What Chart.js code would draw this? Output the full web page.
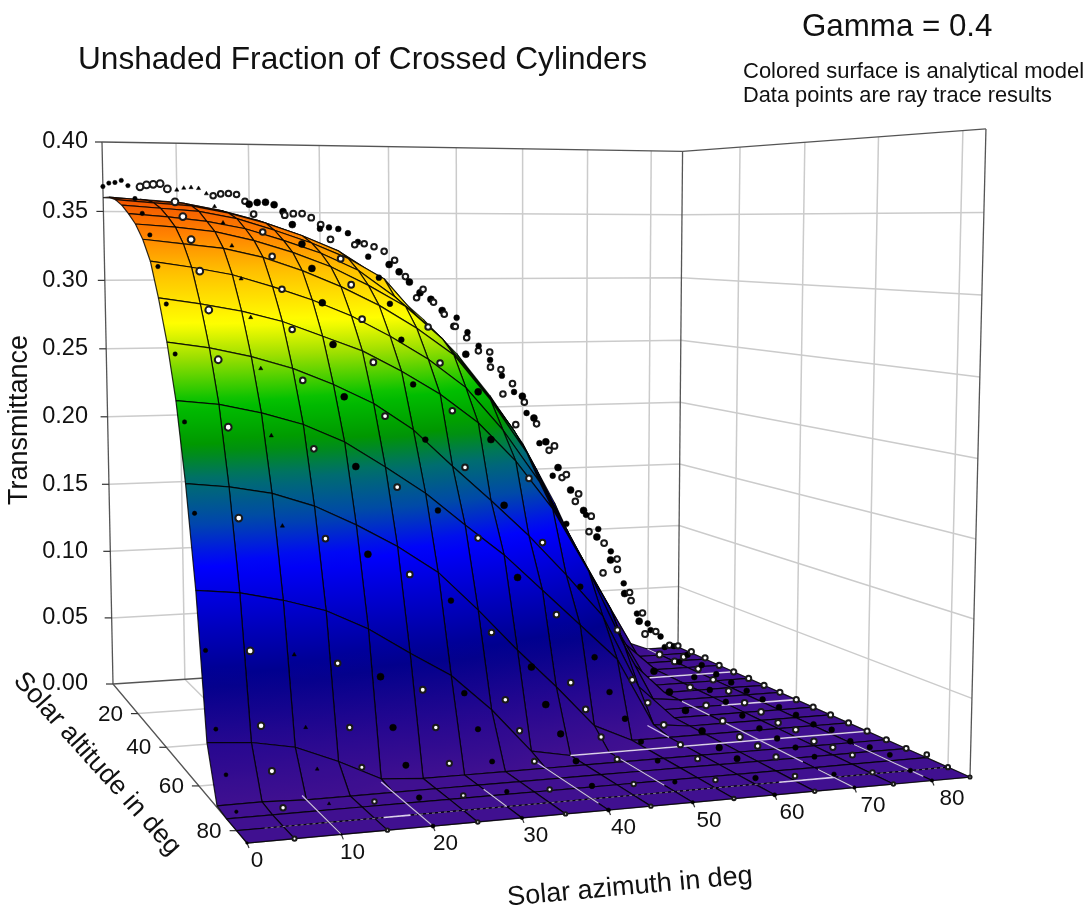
<!DOCTYPE html>
<html lang="en">
<head>
<meta charset="UTF-8">
<title>Unshaded Fraction of Crossed Cylinders</title>
<script src="https://cdn.jsdelivr.net/npm/chart.js@4"></script>
<style>
    body { margin: 0; background: #fff; }
    canvas { display: block; }
</style>
</head>
<body>
<canvas id="chart" width="1085" height="907"></canvas>
<script>
// axis ticks
const zTicks = [0, 0.05, 0.10, 0.15, 0.20, 0.25, 0.30, 0.35, 0.40];
const azTicks = [0, 10, 20, 30, 40, 50, 60, 70, 80];
const altTicks = [20, 40, 60, 80];

// mesh positions in degrees
const azimuths = [0, 5, 10, 15, 20, 25, 30, 35, 40, 45, 50, 55, 60, 65, 70, 75, 80, 85];
const altitudes = [0, 5, 10, 15, 20, 25, 30, 35, 40, 45, 50, 55, 60, 65, 70, 75, 80, 85];

// analytical model, one row per altitude
const modelT = [
    [.360,.359,.357,.352,.345,.336,.325,.310,.292,.269,.242,.209,.171,.123,.067,.010,0,0],
    [.360,.358,.356,.351,.344,.335,.324,.307,.286,.260,.232,.197,.156,.103,.058,0,0,0],
    [.358,.356,.354,.349,.342,.333,.322,.305,.279,.252,.223,.188,.140,.091,.045,0,0,0],
    [.354,.352,.350,.345,.337,.328,.317,.302,.272,.244,.214,.176,.123,.077,.023,0,0,0],
    [.348,.346,.343,.338,.330,.321,.309,.290,.267,.237,.204,.162,.109,.060,.001,0,0,0],
    [.341,.339,.336,.330,.322,.312,.299,.284,.261,.229,.194,.145,.097,.044,0,0,0,0],
    [.331,.328,.325,.319,.310,.299,.286,.270,.251,.219,.181,.128,.081,.025,0,0,0,0],
    [.317,.313,.308,.300,.291,.280,.266,.250,.230,.200,.163,.115,.070,.003,0,0,0,0],
    [.294,.290,.285,.278,.268,.258,.244,.228,.208,.181,.147,.102,.048,0,0,0,0,0],
    [.267,.263,.257,.249,.238,.225,.207,.182,.158,.133,.105,.075,.024,0,0,0,0,0],
    [.232,.229,.223,.215,.203,.186,.168,.146,.125,.100,.075,.050,.003,0,0,0,0,0],
    [.183,.180,.175,.166,.153,.138,.120,.094,.066,.040,.012,0,0,0,0,0,0,0],
    [.121,.118,.112,.104,.091,.074,.058,.034,.005,0,0,0,0,0,0,0,0,0],
    [.033,.031,.026,.015,.002,0,0,0,0,0,0,0,0,0,0,0,0,0],
    [.001,.001,0,0,0,0,0,0,0,0,0,0,0,0,0,0,0,0],
    [0,0,0,0,0,0,0,0,0,0,0,0,0,0,0,0,0,0],
    [0,0,0,0,0,0,0,0,0,0,0,0,0,0,0,0,0,0],
    [0,0,0,0,0,0,0,0,0,0,0,0,0,0,0,0,0,0]
];

// ray trace results, same layout
const rayT = [
    [.368,.368,.366,.362,.356,.348,.338,.326,.311,.292,.270,.243,.208,.168,.112,.075,.021,.001],
    [.370,.369,.367,.363,.357,.349,.339,.327,.306,.283,.260,.231,.193,.148,.104,.052,.015,.001],
    [.370,.369,.367,.363,.357,.349,.338,.325,.299,.275,.251,.222,.177,.136,.090,.040,.012,.001],
    [.371,.369,.366,.362,.355,.346,.335,.322,.292,.267,.242,.210,.160,.122,.069,.030,.010,0],
    [.367,.365,.362,.357,.350,.341,.329,.316,.288,.260,.232,.196,.146,.105,.050,.024,.007,0],
    [.358,.356,.353,.348,.341,.331,.319,.305,.281,.252,.222,.179,.134,.089,.042,.020,.005,0],
    [.348,.346,.342,.336,.328,.318,.305,.291,.271,.242,.209,.162,.118,.070,.034,.016,.004,0],
    [.334,.331,.327,.320,.312,.301,.288,.272,.253,.225,.190,.148,.105,.050,.028,.013,.003,0],
    [.314,.311,.306,.299,.290,.279,.265,.249,.229,.206,.170,.130,.085,.040,.022,.010,.002,0],
    [.291,.287,.282,.274,.264,.252,.237,.219,.199,.172,.140,.105,.070,.040,.018,.007,.002,0],
    [.261,.257,.251,.243,.232,.219,.203,.184,.158,.132,.101,.070,.040,.027,.015,.006,.002,0],
    [.221,.217,.211,.202,.190,.176,.160,.141,.114,.088,.058,.041,.031,.020,.011,.004,.001,0],
    [.168,.164,.158,.149,.138,.124,.106,.084,.060,.048,.040,.031,.024,.015,.008,.005,.003,0],
    [.089,.087,.083,.076,.066,.056,.052,.046,.041,.036,.028,.022,.016,.010,.007,.003,.001,0],
    [.047,.047,.044,.042,.040,.038,.035,.032,.028,.024,.019,.015,.011,.010,.007,.005,.003,0],
    [.026,.026,.025,.024,.023,.022,.021,.019,.017,.016,.013,.012,.010,.009,.007,.006,.004,.002],
    [.011,.011,.011,.010,.010,.009,.009,.008,.008,.007,.006,.005,.004,.003,.002,.001,0,0],
    [0,0,0,0,0,0,0,0,0,0,0,0,0,0,0,0,0,0]
];

// pale floor lines showing through the flat part of the surface
const paleRowAlt = [20, 40, 60, 80, 80];
const paleRowFrom = [72, 74, 45, 16, 63];
const paleRowTo = [85, 85, 85, 19, 70];
const paleColAz = [10, 20, 30, 40, 50, 60, 70, 70, 70, 80, 80];
const paleColFrom = [68, 65, 72, 62, 62, 48, 36, 50, 76, 66, 0];
const paleColTo = [85, 85, 80, 82, 77, 55, 45, 72, 85, 83, 6];

// colour of the surface against transmittance
const colourZ = [0, .03, .07, .10, .135, .16, .185, .205, .23, .258, .278, .31, .335, .36];
const colourRGB = [
    [64, 16, 144], [40, 8, 144], [0, 0, 140], [0, 0, 192], [0, 0, 255], [0, 72, 170], [0, 110, 110],
    [0, 150, 0], [0, 192, 0], [160, 224, 0], [255, 255, 0], [255, 192, 0], [255, 128, 0], [240, 80, 0]
];

// ray trace markers: size per azimuth column, scaled down per altitude row
const rayRadius = [2.2, 3.4, 2.4, 2.8, 3.5, 2.9, 2.9, 2.8, 3.5, 2.8, 2.9, 2.8, 3.5, 2.9, 2.9, 2.8, 2.9, 2.6];
const rayRowScale = [1, 1, 1, 1, 1, 1, 1, 1, 1, 1, 1, 1, 1, 1, .95, .9, .8, .6];
const rayStyle = ['circle', 'circle', 'triangle', 'circle', 'circle', 'circle', 'circle', 'circle',
    'circle', 'circle', 'circle', 'circle', 'circle', 'circle', 'circle', 'circle', 'circle', 'circle'];

// camera: where the corners of the 3D box land in the picture
const azMax = 85, altMax = 85, zMax = 0.40;
const cornerA = [113, 684], cornerD = [678, 647], cornerC = [970, 777], cornerB = [247, 843];
const cornerATop = [102, 142], cornerCTop = [986, 127];

function makeCamera() {
    const [x0, y0] = cornerA, [x1, y1] = cornerD, [x2, y2] = cornerC, [x3, y3] = cornerB;
    const dx1 = x1 - x2, dx2 = x3 - x2, sx = x0 - x1 + x2 - x3;
    const dy1 = y1 - y2, dy2 = y3 - y2, sy = y0 - y1 + y2 - y3;
    const den = dx1 * dy2 - dx2 * dy1;
    const g = (sx * dy2 - dx2 * sy) / den;
    const h = (dx1 * sy - sx * dy1) / den;
    // vanishing point of the vertical edges
    const ka = (cornerATop[0] - x0) / (cornerATop[1] - y0);
    const kc = (cornerCTop[0] - x2) / (cornerCTop[1] - y2);
    const vy = (x2 - kc * y2 - x0 + ka * y0) / (ka - kc);
    const vx = x0 + ka * (vy - y0);
    const s = (y0 - cornerATop[1]) / (cornerATop[1] - vy);
    return {
        a: x1 - x0 + g * x1, b: x3 - x0 + h * x3, c: x0,
        d: y1 - y0 + g * y1, e: y3 - y0 + h * y3, f: y0,
        g, h, vx, vy, s
    };
}
const cam = makeCamera();

function project(az, alt, t) {
    const u = az / azMax, v = alt / altMax, k = cam.s * t / zMax;
    const w = cam.g * u + cam.h * v + 1 + k;
    return {
        x: (cam.a * u + cam.b * v + cam.c + k * cam.vx) / w,
        y: (cam.d * u + cam.e * v + cam.f + k * cam.vy) / w
    };
}

function colourAt(t) {
    let i = 0;
    while (i < colourZ.length - 2 && t > colourZ[i + 1]) i++;
    const f = Math.min(1, Math.max(0, (t - colourZ[i]) / (colourZ[i + 1] - colourZ[i])));
    const c = colourRGB[i].map((v, n) => Math.round(v + (colourRGB[i + 1][n] - v) * f));
    return `rgb(${c[0]},${c[1]},${c[2]})`;
}

// gradient running along the slope of one mesh cell
function cellFill(chart, corners, zs) {
    const sx = chart.scales.x, sy = chart.scales.y;
    const zMin = Math.min(...zs), zHigh = Math.max(...zs);
    const zMid = (zs[0] + zs[1] + zs[2] + zs[3]) / 4;
    // options can be asked for before the first layout
    if (!sx || !sy || !chart.chartArea || zHigh - zMin < 0.0005) return colourAt(zMid);
    const px = corners.map(p => sx.getPixelForValue(p.x));
    const py = corners.map(p => sy.getPixelForValue(p.y));
    const ax = px[2] - px[0], ay = py[2] - py[0], az = zs[2] - zs[0];
    const bx = px[3] - px[1], by = py[3] - py[1], bz = zs[3] - zs[1];
    const det = ax * by - bx * ay;
    const ga = (az * by - bz * ay) / det, gb = (ax * bz - bx * az) / det;
    const len = ga * ga + gb * gb;
    const cx = (px[0] + px[1] + px[2] + px[3]) / 4, cy = (py[0] + py[1] + py[2] + py[3]) / 4;
    const ends = [
        cx + ga * (zMin - zMid) / len, cy + gb * (zMin - zMid) / len,
        cx + ga * (zHigh - zMid) / len, cy + gb * (zHigh - zMid) / len
    ];
    if (!ends.every(Number.isFinite)) return colourAt(zMid);
    const grad = chart.ctx.createLinearGradient(...ends);
    for (let n = 0; n <= 8; n++) {
        grad.addColorStop(n / 8, colourAt(zMin + (zHigh - zMin) * n / 8));
    }
    return grad;
}

const layers = [];

function addLine(points, colour, width, dash) {
    layers.push({
        data: points, showLine: true, fill: false, pointRadius: 0,
        borderColor: colour, borderWidth: width, borderDash: dash || []
    });
}

const GRID = '#cbcbcb', FRAME = '#555555';

// back wall, right wall and floor grid
azTicks.slice(1).forEach(az => {
    addLine([project(az, 0, 0), project(az, 0, zMax)], GRID, 1.5);
    addLine([project(az, 0, 0), project(az, altMax, 0)], GRID, 1.5);
});
altTicks.forEach(alt => {
    addLine([project(azMax, alt, 0), project(azMax, alt, zMax)], GRID, 1.5);
    addLine([project(0, alt, 0), project(azMax, alt, 0)], GRID, 1.5);
});
zTicks.slice(1, -1).forEach(t => {
    addLine([project(0, 0, t), project(azMax, 0, t), project(azMax, altMax, t)], GRID, 1.5);
});

// frame
addLine([project(0, 0, zMax), project(azMax, 0, zMax), project(azMax, altMax, zMax)], FRAME, 1.3);
addLine([project(0, 0, 0), project(0, 0, zMax)], FRAME, 1.3);
addLine([project(azMax, 0, 0), project(azMax, 0, zMax)], FRAME, 1.3);
addLine([project(azMax, altMax, 0), project(azMax, altMax, zMax)], FRAME, 1.3);
addLine([project(0, 0, 0), project(azMax, 0, 0)], FRAME, 1.3);
addLine([project(azMax, 0, 0), project(azMax, altMax, 0)], '#999999', 1.2);
addLine([project(0, 0, 0), project(0, altMax, 0), project(azMax, altMax, 0)], FRAME, 1.3);

// tick marks
zTicks.forEach(t => {
    const p = project(0, 0, t);
    addLine([p, { x: p.x - 7, y: p.y }], '#333333', 1.2);
});
altTicks.forEach(alt => {
    const p = project(0, alt, 0);
    addLine([p, { x: p.x - 7, y: p.y }], '#333333', 1.2);
});
azTicks.forEach(az => {
    const p = project(az, altMax, 0);
    addLine([p, { x: p.x + 2, y: p.y + 5 }], '#333333', 1.2);
});

// surface cells, far ones first so the near ones paint over them
for (let i = 0; i < altitudes.length - 1; i++) {
    for (let j = azimuths.length - 2; j >= 0; j--) {
        const zs = [modelT[i][j], modelT[i][j + 1], modelT[i + 1][j + 1], modelT[i + 1][j]];
        const corners = [
            project(azimuths[j], altitudes[i], zs[0]),
            project(azimuths[j + 1], altitudes[i], zs[1]),
            project(azimuths[j + 1], altitudes[i + 1], zs[2]),
            project(azimuths[j], altitudes[i + 1], zs[3])
        ];
        layers.push({
            data: [...corners, corners[0]],
            showLine: true, fill: 'shape', pointRadius: 0,
            borderColor: 'rgba(0,0,0,0.82)', borderWidth: 1.2,
            backgroundColor: ctx => cellFill(ctx.chart, corners, zs)
        });
    }
}

// pale floor lines
addLine([project(3, 80, 0), project(azMax, 80, 0)], 'rgba(225,210,245,0.55)', 1, [3, 3]);
paleRowAlt.forEach((alt, n) => {
    addLine([project(paleRowFrom[n], alt, 0), project(paleRowTo[n], alt, 0)], '#dccdf2', 1.6);
});
paleColAz.forEach((az, n) => {
    addLine([project(az, paleColFrom[n], 0), project(az, paleColTo[n], 0)], '#c9b6e8', 1.3);
});

// ray trace points, one dataset per azimuth column
azimuths.forEach((az, j) => {
    const ring = j % 2 === 1;
    layers.push({
        data: altitudes.map((alt, i) => project(az, alt, rayT[i][j])),
        showLine: false,
        pointStyle: rayStyle[j],
        pointRadius: rayRowScale.map(f => rayRadius[j] * f),
        pointBackgroundColor: ring ? '#ffffff' : '#000000',
        pointBorderColor: ring ? '#1a1a1a' : '#000000',
        pointBorderWidth: ring ? 2 : 0.5
    });
});

const TEXT = '#111111';

function drawText(ctx, str, x, y, font, align, angle) {
    ctx.save();
    ctx.translate(x, y);
    if (angle) ctx.rotate(angle * Math.PI / 180);
    ctx.font = font;
    ctx.fillStyle = TEXT;
    ctx.textAlign = align || 'left';
    ctx.textBaseline = 'middle';
    ctx.fillText(str, 0, 0);
    ctx.restore();
}

const textPlugin = {
    id: 'boxText',
    afterDraw(chart) {
        const ctx = chart.ctx, sx = chart.scales.x, sy = chart.scales.y;
        const FONT = '"Liberation Sans", Arial, sans-serif';
        const at = (p, dx, dy) => [sx.getPixelForValue(p.x) + dx, sy.getPixelForValue(p.y) + dy];

        drawText(ctx, 'Unshaded Fraction of Crossed Cylinders', 78, 60, `31.6px ${FONT}`);
        drawText(ctx, 'Gamma = 0.4', 802, 27, `31.3px ${FONT}`);
        drawText(ctx, 'Colored surface is analytical model', 743, 72, `22px ${FONT}`);
        drawText(ctx, 'Data points are ray trace results', 743, 96, `21.8px ${FONT}`);
        drawText(ctx, 'Transmittance', 20, 420, `27px ${FONT}`, 'center', -90);
        drawText(ctx, 'Solar altitude in deg', 97, 764, `26.7px ${FONT}`, 'center', 48);
        drawText(ctx, 'Solar azimuth in deg', 630, 887, `27px ${FONT}`, 'center', -5.2);

        zTicks.forEach(t => {
            const [x, y] = at(project(0, 0, t), 0, 0);
            drawText(ctx, t.toFixed(2), 88, y, `23.5px ${FONT}`, 'right');
        });
        altTicks.forEach(alt => {
            const [x, y] = at(project(0, alt, 0), -15, 1);
            drawText(ctx, String(alt), x, y, `22.5px ${FONT}`, 'right');
        });
        azTicks.forEach(az => {
            const [x, y] = at(project(az, altMax, 0), 10 + az / 8, 18);
            drawText(ctx, String(az), x, y, `22.5px ${FONT}`, 'center');
        });
    }
};

// Chart.js paints the last dataset first
new Chart(document.getElementById('chart'), {
    type: 'scatter',
    data: { datasets: layers.slice().reverse() },
    options: {
        responsive: false,
        animation: false,
        events: [],
        layout: { padding: 0, autoPadding: false },
        plugins: { legend: { display: false }, title: { display: false }, tooltip: { enabled: false } },
        scales: {
            x: { type: 'linear', min: 0, max: 1085, display: false },
            y: { type: 'linear', min: 0, max: 907, reverse: true, display: false }
        }
    },
    plugins: [textPlugin]
});
</script>
</body>
</html>
